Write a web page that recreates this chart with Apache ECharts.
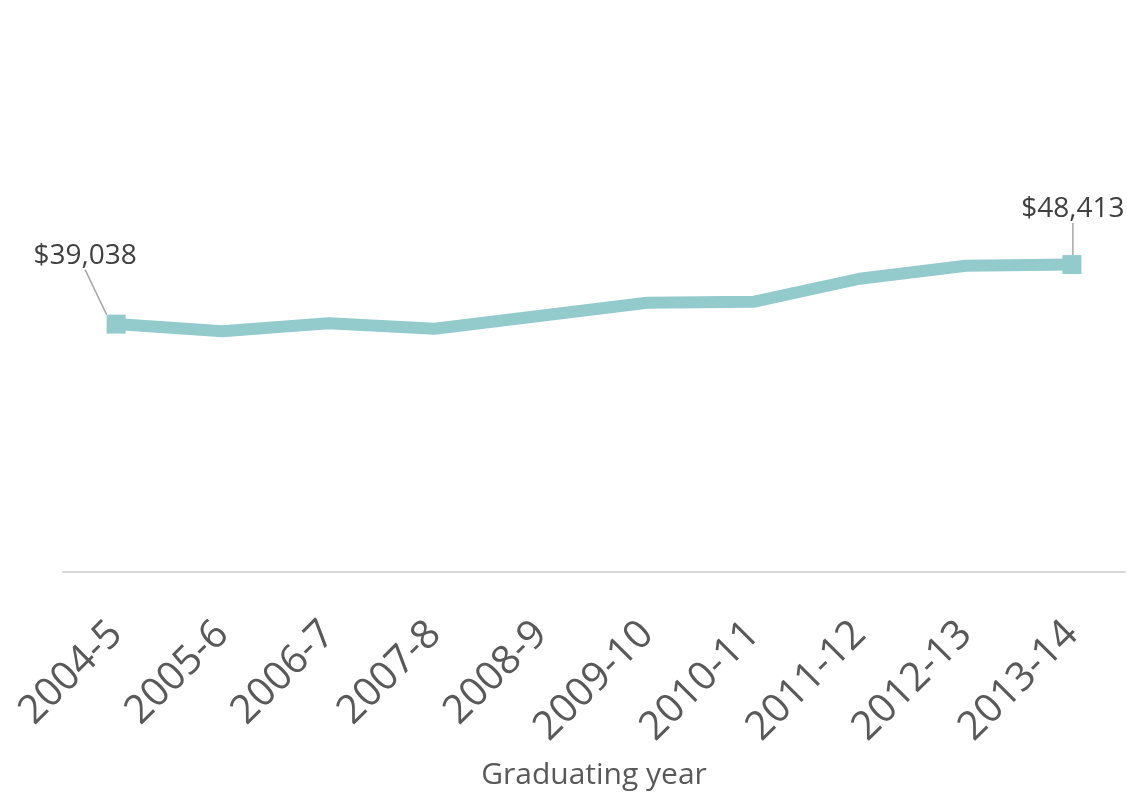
<!DOCTYPE html>
<html>
<head>
<meta charset="utf-8">
<script src="https://cdn.jsdelivr.net/npm/echarts@6/dist/echarts.min.js"></script>
<style>html,body{margin:0;padding:0;background:#fff}#c{width:1127px;height:793px}</style>
</head>
<body>
<div id="c"></div>
<script>
const categories = ['2004-5','2005-6','2006-7','2007-8','2008-9','2009-10','2010-11','2011-12','2012-13','2013-14'];
const debtValues = [39038, 37900, 39160, 38300, 40350, 42390, 42550, 46180, 48230, 48413];
const labelledIdx = [0, 9];
const axisName = 'Graduating year';

const FONT = 'Open Sans';
const chart = echarts.init(document.getElementById('c'), null, {renderer: 'canvas'});
const data = debtValues.map((v, i) => {
  const isLab = labelledIdx.includes(i);
  return {
    value: v,
    symbol: isLab ? 'rect' : 'none',
    symbolSize: 19,
    label: {show: isLab},
    labelLine: {show: isLab}
  };
});
chart.setOption({
  animation: false,
  grid: {left: 63, right: 2, top: 191, bottom: 221, containLabel: false},
  xAxis: {
    type: 'category',
    data: categories,
    boundaryGap: true,
    axisLine: {show: true, lineStyle: {color: '#D9D9D9', width: 2}},
    axisTick: {show: false},
    axisLabel: {rotate: 45, margin: 56, fontSize: 40, color: '#595959', fontFamily: FONT, interval: 0},
    name: axisName,
    nameLocation: 'middle',
    nameGap: 188,
    nameTextStyle: {fontSize: 30, color: '#595959', fontFamily: FONT}
  },
  yAxis: {
    type: 'value', min: 0, max: 60000,
    show: false, splitLine: {show: false}
  },
  series: [{
    type: 'line',
    data: data,
    lineStyle: {color: '#93CBCD', width: 12},
    itemStyle: {color: '#93CBCD'},
    showSymbol: true,
    label: {
      show: false,
      formatter: p => '$' + p.value.toLocaleString('en-US'),
      fontSize: 28, color: '#404040', fontFamily: FONT
    },
    labelLine: {lineStyle: {color: '#A6A6A6', width: 1.5}},
    labelLayout: function (p) {
      if (p.dataIndex === 0) return {dx: -31, dy: -40};
      if (p.dataIndex === 9) return {dx: 1, dy: -27};
      return {};
    },
    z: 3
  }]
});
</script>
</body>
</html>
